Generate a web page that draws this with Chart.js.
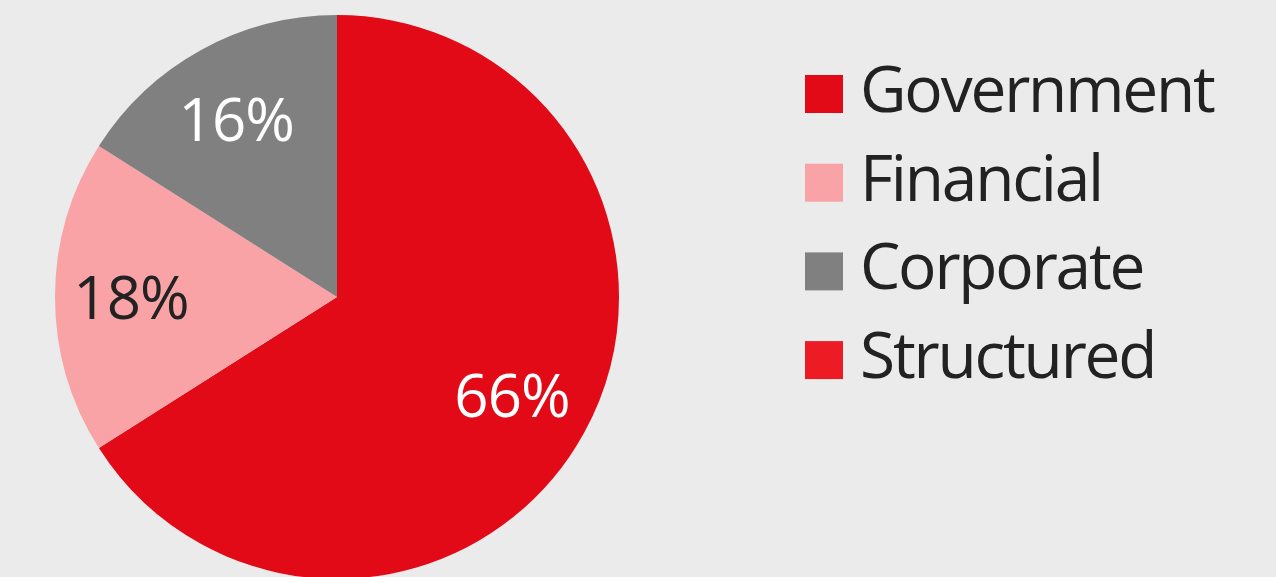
<!DOCTYPE html>
<html>
<head>
<meta charset="utf-8">
<script src="https://cdn.jsdelivr.net/npm/chart.js@4.4.0/dist/chart.umd.min.js"></script>
<style>
  html, body { margin: 0; padding: 0; background: #ebebeb; overflow: hidden; }
  #wrap { position: relative; width: 1276px; height: 600px; }
</style>
</head>
<body>
<div id="wrap"><canvas id="sectorChart"></canvas></div>
<script>
// sector split of the portfolio
const sectors = ["Government", "Financial", "Corporate", "Structured"];
const shares = [66, 18, 16, 0];
const sliceColors = ["#e20a17", "#f9a3a6", "#808080", "#ed1c24"];
const labelColors = ["#ffffff", "#222222", "#ffffff", "#ffffff"];

const FONT = "'Open Sans', 'Noto Sans', sans-serif";

// percentage labels inside the slices
const sliceLabels = {
    id: 'sliceLabels',
    afterDatasetsDraw(chart) {
        const ctx = chart.ctx;
        const meta = chart.getDatasetMeta(0);
        ctx.save();
        ctx.font = "60px " + FONT;
        ctx.letterSpacing = "-1px";
        ctx.textAlign = 'center';
        ctx.textBaseline = 'alphabetic';
        meta.data.forEach((arc, i) => {
            if (!shares[i]) return;
            const p = arc.getProps(['x', 'y', 'startAngle', 'endAngle', 'outerRadius'], true);
            const mid = (p.startAngle + p.endAngle) / 2;
            const r = p.outerRadius * 0.72;
            const x = p.x + Math.cos(mid) * r;
            const y = p.y + Math.sin(mid) * r;
            ctx.fillStyle = labelColors[i];
            ctx.fillText(shares[i] + "%", x - 3, y + 22);
        });
        ctx.restore();
    }
};

// legend on the right, drawn on the canvas
const sideLegend = {
    id: 'sideLegend',
    afterDraw(chart) {
        const ctx = chart.ctx;
        ctx.save();
        ctx.font = "64px " + FONT;
        ctx.letterSpacing = "-2.2px";
        ctx.textAlign = 'left';
        ctx.textBaseline = 'alphabetic';
        sectors.forEach((name, i) => {
            const top = 75 + i * 88.7;
            ctx.fillStyle = sliceColors[i];
            ctx.fillRect(805, top, 38, 38);
            ctx.fillStyle = "#222222";
            ctx.fillText(name, 860, top + 37);
        });
        ctx.restore();
    }
};

const ctx = document.getElementById("sectorChart").getContext("2d");
new Chart(ctx, {
    type: 'pie',
    data: {
        labels: sectors,
        datasets: [{
            data: shares,
            backgroundColor: sliceColors,
            borderWidth: 0
        }]
    },
    options: {
        responsive: true,
        maintainAspectRatio: false,
        animation: false,
        layout: {
            padding: { left: 55, top: 15, right: 657, bottom: 21 }
        },
        plugins: {
            legend: { display: false },
            tooltip: { enabled: false }
        }
    },
    plugins: [sliceLabels, sideLegend]
});
</script>
</body>
</html>
